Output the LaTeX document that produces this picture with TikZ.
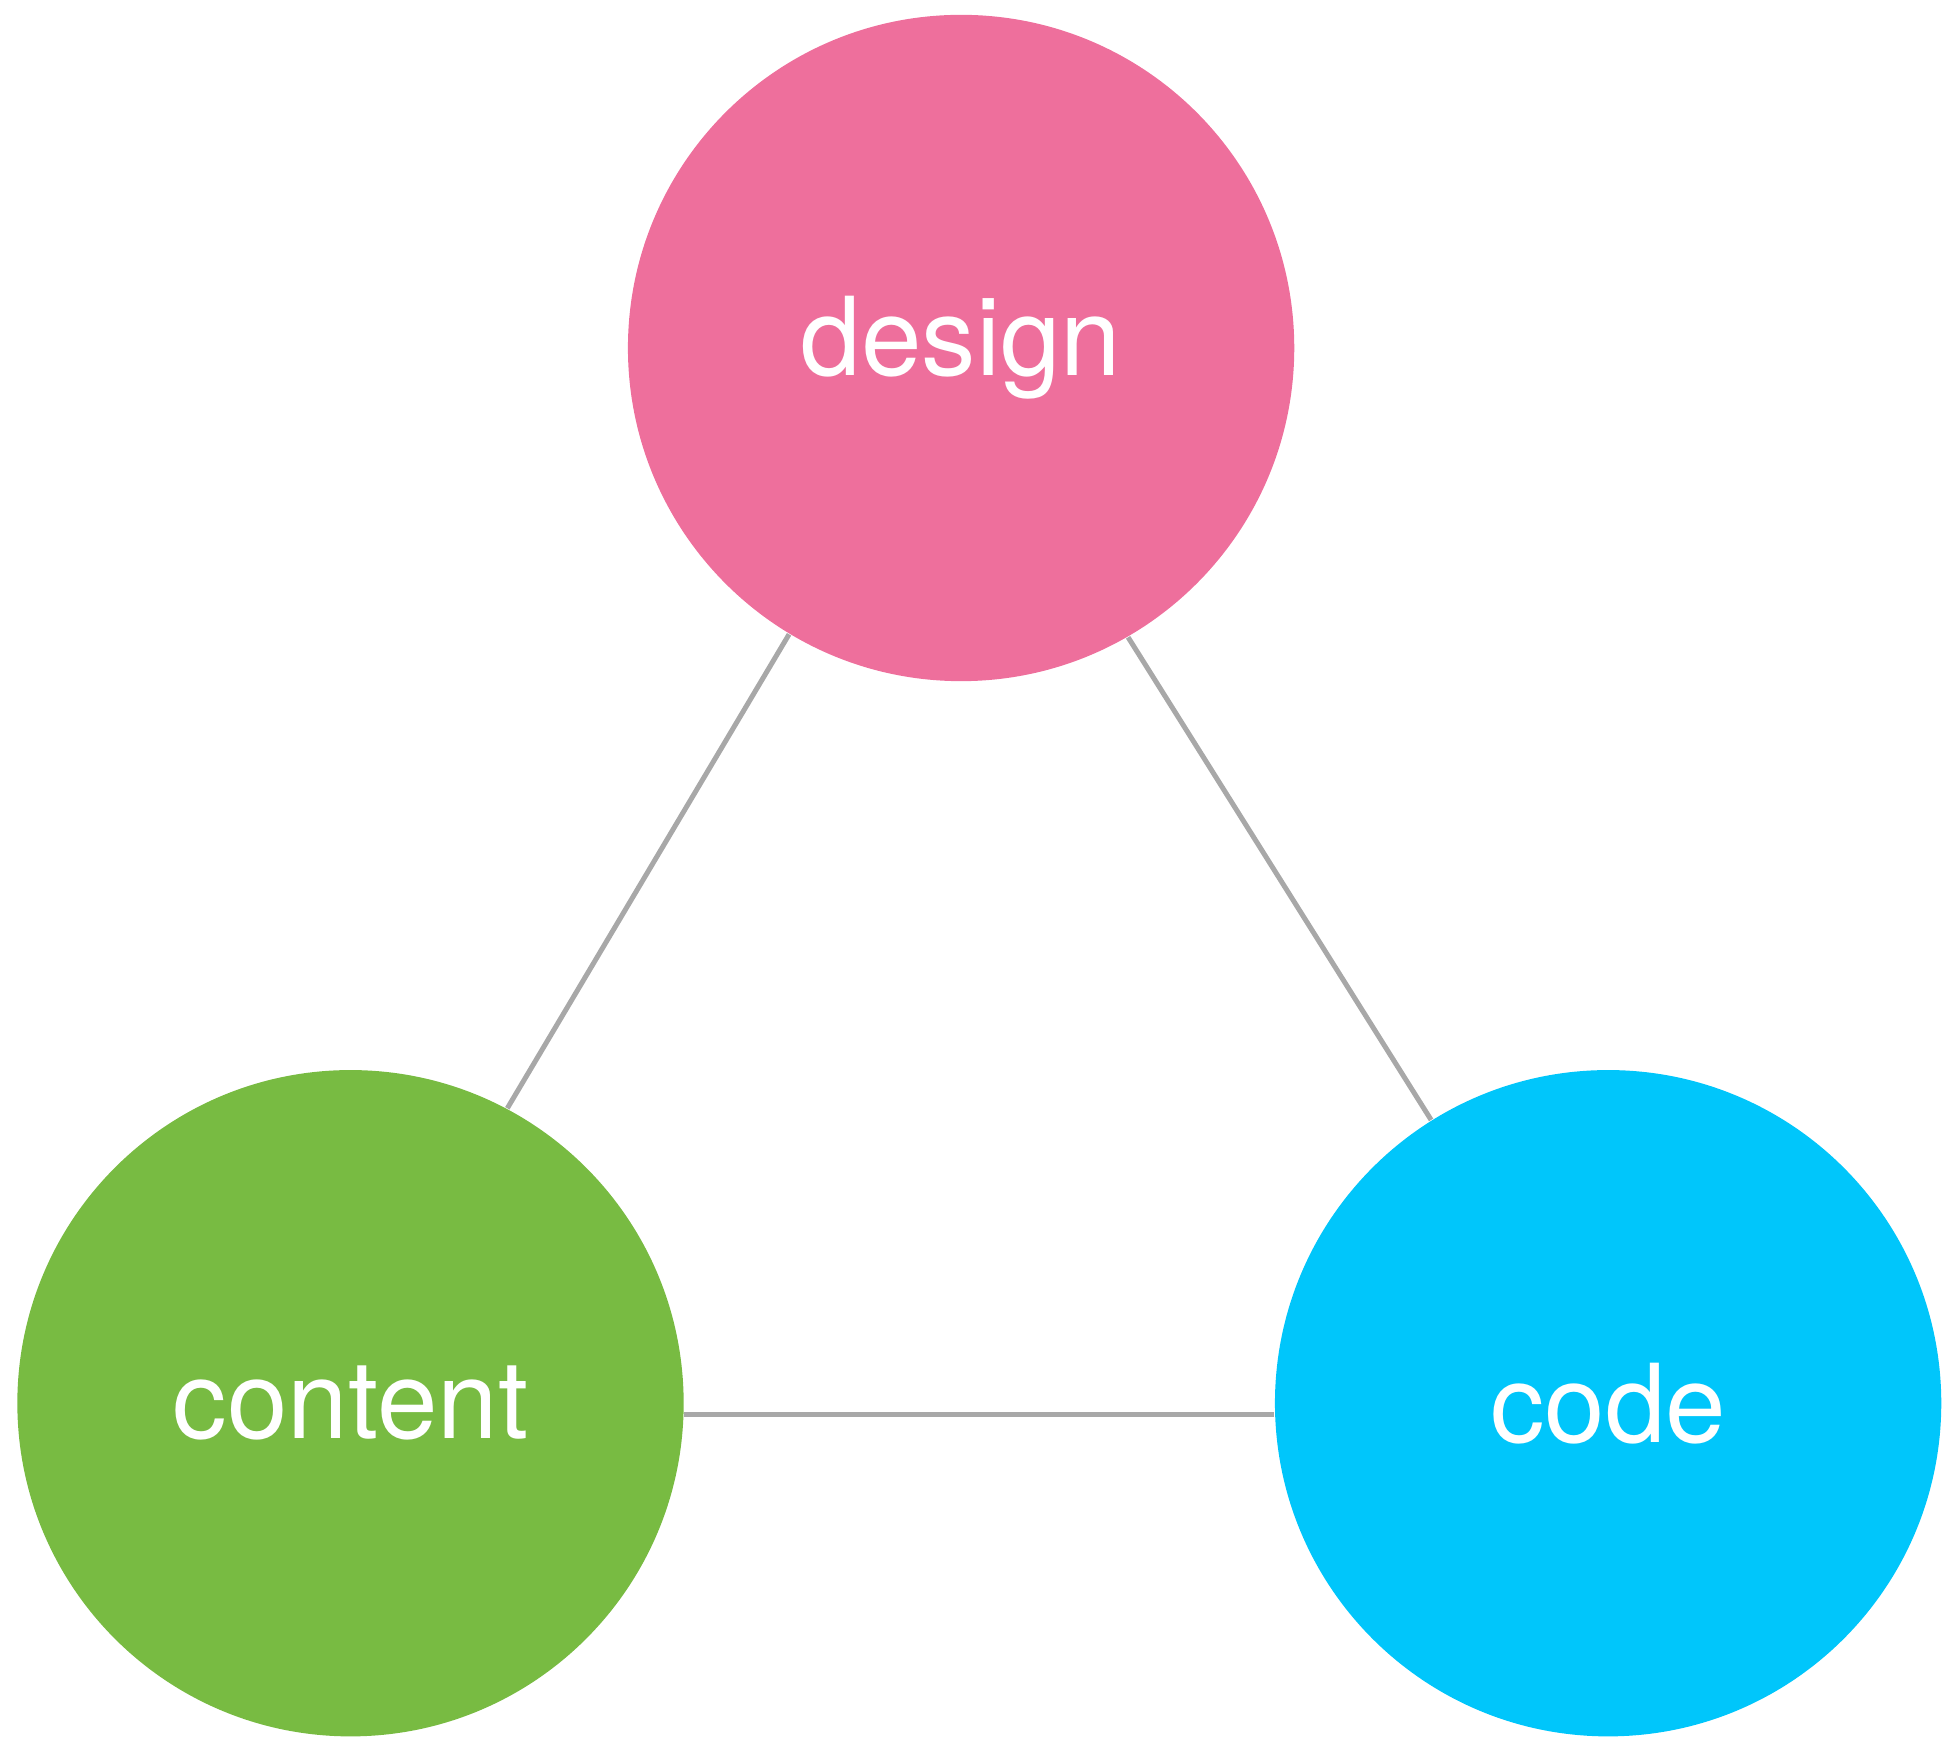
\documentclass[tikz,border=0pt]{standalone}
\usepackage{fontspec}
\setsansfont{TeX Gyre Heros}
\usepackage{tikz}
\usetikzlibrary{positioning}
\definecolor{designpink}{HTML}{EE6F9C}
\definecolor{contentgreen}{HTML}{78BB42}
\definecolor{codecyan}{HTML}{00C6FB}
\definecolor{linkgray}{HTML}{A8A8A8}
\tikzset{
    bubble/.style={circle, minimum size=5.38cm, inner sep=0pt, text=white, font=\sffamily\fontsize{25}{30}\selectfont},
    link/.style={draw=linkgray, line width=1.15pt}
}
\begin{document}
\begin{tikzpicture}
    \useasboundingbox (0,0) rectangle (15.68,14.034);

    % Three circles
    \node (design) [bubble, fill=designpink] at (7.76,11.224) {design};
    \node (content) [bubble, fill=contentgreen] at (2.83,2.704) {content};
    \node (code) [bubble, fill=codecyan, right=4.76cm of content] {code};

    % Links between them
    \draw [link] (design.239) -- (content.62.4);
    \draw [link] (design.300.3) -- (code.122.9);
    \draw [link] (content.-2.56) -- (code.182.56);

\end{tikzpicture}
\end{document}
